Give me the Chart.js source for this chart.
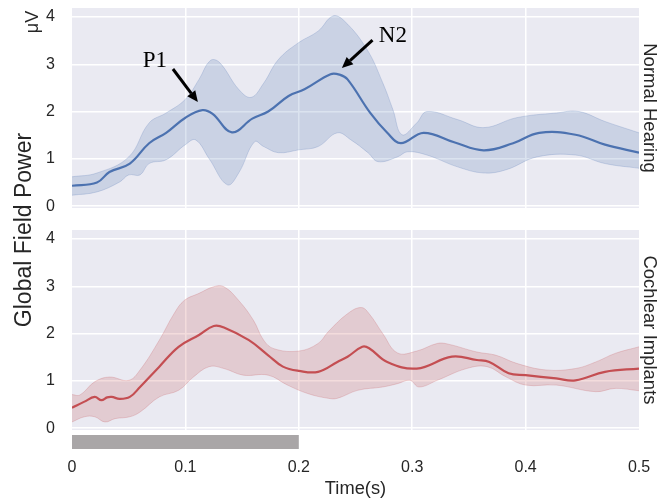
<!DOCTYPE html>
<html>
<head>
<meta charset="utf-8">
<script src="https://cdn.jsdelivr.net/npm/chart.js@4.4.1/dist/chart.umd.min.js"></script>
<style>
  html, body { margin: 0; padding: 0; background: #ffffff; }
  #wrap { position: relative; width: 672px; height: 501px; overflow: hidden; }
  .panel { position: absolute; left: 0; width: 672px; }
  .vlabel { position: absolute; white-space: nowrap; color: #262626; font-family: "Liberation Sans", Arial, sans-serif;
            transform: translate(-50%, -50%) rotate(-90deg); line-height: 1; }
</style>
</head>
<body>
<div id="wrap">
  <div class="panel" style="top:0;height:216px"><canvas id="cTop" width="672" height="216"></canvas></div>
  <div class="panel" style="top:220px;height:281px"><canvas id="cBot" width="672" height="281"></canvas></div>
  <div class="vlabel" id="yTitle" style="left:23px;top:230px;font-size:23px">Global Field Power</div>
  <div class="vlabel" id="yUnit" style="left:32px;top:22px;font-size:18px">μV</div>
</div>
<script>
// ---------- data ----------
const timeTicks = [0, 0.1, 0.2, 0.3, 0.4, 0.5];
const timeTickLabels = ['0', '0.1', '0.2', '0.3', '0.4', '0.5'];
const yTicks = [0, 1, 2, 3, 4];
const panelNames = ['Normal Hearing', 'Cochlear Implants'];
const xTitle = 'Time(s)';
const stimulusWindow = [0, 0.2];

// Normal Hearing
const nhMeanT = [0, 0.022, 0.033, 0.051, 0.068, 0.083, 0.1, 0.115, 0.124, 0.141, 0.159, 0.173, 0.191, 0.205, 0.228, 0.236, 0.243, 0.263, 0.278, 0.29, 0.31, 0.337, 0.363, 0.389, 0.412, 0.444, 0.47, 0.5];
const nhMean  = [0.43, 0.5, 0.72, 0.9, 1.33, 1.55, 1.87, 2.03, 1.95, 1.56, 1.85, 2.0, 2.33, 2.47, 2.79, 2.78, 2.68, 1.97, 1.55, 1.33, 1.55, 1.35, 1.18, 1.33, 1.55, 1.51, 1.3, 1.13];
const nhUpperT = [0, 0.022, 0.05, 0.068, 0.083, 0.1, 0.112, 0.122, 0.13, 0.147, 0.158, 0.169, 0.182, 0.2, 0.217, 0.23, 0.24, 0.26, 0.274, 0.283, 0.291, 0.304, 0.313, 0.34, 0.363, 0.392, 0.427, 0.447, 0.47, 0.5];
const nhUpper  = [0.62, 0.7, 1.04, 1.76, 1.97, 2.26, 2.68, 3.08, 3.04, 2.47, 2.3, 2.6, 3.1, 3.46, 3.7, 4.02, 3.92, 3.32, 2.61, 2.04, 1.51, 1.76, 2.0, 1.83, 1.66, 1.87, 1.97, 2.0, 1.79, 1.55];
const nhLowerT = [0, 0.022, 0.042, 0.05, 0.06, 0.068, 0.083, 0.1, 0.109, 0.121, 0.137, 0.147, 0.161, 0.169, 0.182, 0.2, 0.217, 0.234, 0.246, 0.261, 0.27, 0.287, 0.296, 0.313, 0.34, 0.363, 0.383, 0.41, 0.444, 0.47, 0.5];
const nhLower  = [0.23, 0.3, 0.51, 0.66, 0.66, 0.9, 0.98, 1.3, 1.4, 1.0, 0.45, 0.7, 1.36, 1.26, 1.13, 1.19, 1.26, 1.55, 1.4, 1.13, 0.94, 1.04, 1.15, 1.08, 0.83, 0.7, 0.77, 1.04, 1.08, 0.9, 0.8];

// Cochlear Implants
const ciMeanT = [0, 0.011, 0.02, 0.026, 0.031, 0.035, 0.042, 0.051, 0.06, 0.077, 0.094, 0.112, 0.125, 0.134, 0.156, 0.173, 0.186, 0.2, 0.217, 0.234, 0.243, 0.256, 0.262, 0.278, 0.304, 0.335, 0.357, 0.368, 0.385, 0.4, 0.427, 0.444, 0.47, 0.5];
const ciMean  = [0.43, 0.56, 0.66, 0.59, 0.65, 0.66, 0.62, 0.66, 0.87, 1.3, 1.72, 1.97, 2.16, 2.13, 1.86, 1.54, 1.3, 1.21, 1.19, 1.4, 1.51, 1.72, 1.69, 1.4, 1.26, 1.51, 1.44, 1.4, 1.16, 1.12, 1.05, 1.01, 1.19, 1.26];
const ciUpperT = [0, 0.007, 0.02, 0.033, 0.05, 0.06, 0.077, 0.09, 0.099, 0.112, 0.125, 0.134, 0.147, 0.16, 0.169, 0.178, 0.2, 0.217, 0.226, 0.243, 0.255, 0.262, 0.274, 0.287, 0.304, 0.322, 0.331, 0.357, 0.374, 0.392, 0.418, 0.444, 0.462, 0.479, 0.5];
const ciUpper  = [0.71, 0.7, 0.98, 1.08, 1.01, 1.23, 1.86, 2.42, 2.7, 2.85, 2.99, 2.99, 2.7, 2.28, 1.86, 1.68, 1.63, 1.79, 2.04, 2.42, 2.55, 2.42, 2.0, 1.59, 1.63, 1.79, 1.78, 1.61, 1.54, 1.37, 1.23, 1.26, 1.4, 1.58, 1.72];
const ciLowerT = [0, 0.011, 0.02, 0.029, 0.038, 0.051, 0.06, 0.077, 0.094, 0.107, 0.121, 0.134, 0.151, 0.173, 0.19, 0.208, 0.226, 0.234, 0.252, 0.274, 0.287, 0.298, 0.306, 0.322, 0.348, 0.366, 0.383, 0.4, 0.427, 0.462, 0.479, 0.5];
const ciLower  = [0.13, 0.24, 0.24, 0.13, 0.2, 0.24, 0.34, 0.66, 0.8, 1.08, 1.3, 1.26, 1.12, 1.12, 0.91, 0.73, 0.63, 0.63, 0.8, 0.87, 0.94, 1.01, 0.87, 1.01, 1.26, 1.3, 1.08, 0.91, 0.91, 0.77, 0.84, 0.79];

// Peak annotations (data coordinates)
const peakLabels = ['P1', 'N2'];
const peakTextT = [0.073, 0.283];
const peakTextV = [3.07, 3.6];
const peakTailT = [0.089, 0.265];
const peakTailV = [2.9, 3.51];
const peakTipT  = [0.111, 0.238];
const peakTipV  = [2.2, 2.92];

// ---------- styling ----------
const SANS = '"Liberation Sans", Arial, sans-serif';
const SERIF = '"Liberation Serif", "Times New Roman", serif';
const TXT = '#262626';
const BG = '#EAEAF2';
const Y_MIN = -0.04, Y_MAX = 4.19;

const pts = (t, v) => t.map((x, i) => ({x: x, y: v[i]}));

function datasets(rgb, mT, m, uT, u, lT, l) {
  const solid = `rgb(${rgb})`;
  const band = `rgba(${rgb},0.2)`;
  const edge = `rgba(${rgb},0.22)`;
  return [
    {data: pts(mT, m), borderColor: solid, borderWidth: 2.2, pointRadius: 0, fill: false, tension: 0.4},
    {data: pts(uT, u), borderColor: edge, borderWidth: 1, pointRadius: 0, backgroundColor: band, fill: 2, tension: 0.4},
    {data: pts(lT, l), borderColor: edge, borderWidth: 1, pointRadius: 0, fill: false, tension: 0.4}
  ];
}

const bgPlugin = {
  id: 'bg',
  beforeDraw(chart) {
    const a = chart.chartArea, c = chart.ctx;
    c.save(); c.fillStyle = BG; c.fillRect(a.left, a.top, a.right - a.left, a.bottom - a.top); c.restore();
  }
};

function sideLabel(text) {
  return {
    id: 'side',
    afterDraw(chart) {
      const a = chart.chartArea, c = chart.ctx;
      c.save();
      c.translate(a.right + 10, (a.top + a.bottom) / 2);
      c.rotate(Math.PI / 2);
      c.font = `18.5px ${SANS}`; c.fillStyle = TXT;
      c.textAlign = 'center'; c.textBaseline = 'middle';
      c.fillText(text, 0, 0);
      c.restore();
    }
  };
}

const stimPlugin = {
  id: 'stim',
  afterDraw(chart) {
    const xs = chart.scales.x, a = chart.chartArea, c = chart.ctx;
    const x0 = xs.getPixelForValue(stimulusWindow[0]), x1 = xs.getPixelForValue(stimulusWindow[1]);
    c.save(); c.fillStyle = '#A9A6A7'; c.fillRect(x0, a.bottom + 5, x1 - x0, 14); c.restore();
  }
};

const arrowPlugin = {
  id: 'arrows',
  afterDatasetsDraw(chart) {
    const xs = chart.scales.x, ys = chart.scales.y, c = chart.ctx;
    c.save();
    peakLabels.forEach((lab, i) => {
      c.font = `23px ${SERIF}`; c.fillStyle = '#000'; c.textAlign = 'center'; c.textBaseline = 'middle';
      c.fillText(lab, xs.getPixelForValue(peakTextT[i]), ys.getPixelForValue(peakTextV[i]));
      const x0 = xs.getPixelForValue(peakTailT[i]), y0 = ys.getPixelForValue(peakTailV[i]);
      const x1 = xs.getPixelForValue(peakTipT[i]), y1 = ys.getPixelForValue(peakTipV[i]);
      const ang = Math.atan2(y1 - y0, x1 - x0), hl = 11, hw = 5;
      const bx = x1 - hl * Math.cos(ang), by = y1 - hl * Math.sin(ang);
      c.strokeStyle = '#000'; c.lineWidth = 3;
      c.beginPath(); c.moveTo(x0, y0); c.lineTo(bx, by); c.stroke();
      c.beginPath();
      c.moveTo(x1, y1);
      c.lineTo(bx + hw * Math.sin(ang), by - hw * Math.cos(ang));
      c.lineTo(bx - hw * Math.sin(ang), by + hw * Math.cos(ang));
      c.closePath(); c.fillStyle = '#000'; c.fill();
    });
    c.restore();
  }
};

function yScale() {
  return {
    type: 'linear', min: Y_MIN, max: Y_MAX,
    afterBuildTicks(s) { s.ticks = yTicks.map(v => ({value: v})); },
    afterFit(s) { s.width = 72; s.paddingTop = 0; s.paddingBottom = 0; },
    grid: {color: '#ffffff', lineWidth: 1.5, drawTicks: false},
    border: {display: false},
    ticks: {font: {family: SANS, size: 16}, color: TXT, padding: 17, callback: v => String(v)}
  };
}

function xScale(showLabels) {
  return {
    type: 'linear', min: 0, max: 0.5,
    afterBuildTicks(s) { s.ticks = timeTicks.map(v => ({value: v})); },
    afterFit(s) { s.height = showLabels ? 71 : 0; s.paddingLeft = 0; s.paddingRight = 0; },
    grid: {color: ctx => (ctx.tick && (ctx.tick.value === 0 || ctx.tick.value === 0.5)) ? 'rgba(0,0,0,0)' : '#ffffff', lineWidth: 1.5, drawTicks: false},
    border: {display: false},
    ticks: {display: showLabels, font: {family: SANS, size: 16}, color: TXT, padding: 28, maxRotation: 0,
            callback: (v) => { const k = timeTicks.indexOf(v); return k >= 0 ? timeTickLabels[k] : ''; }},
    title: {display: showLabels, text: xTitle, font: {family: SANS, size: 18.3}, color: TXT, padding: {top: 0, bottom: 1}}
  };
}

function baseOptions(pad, showX) {
  return {
    responsive: false, animation: false, devicePixelRatio: 1,
    layout: {padding: pad},
    plugins: {legend: {display: false}, tooltip: {enabled: false}},
    scales: {x: xScale(showX), y: yScale()}
  };
}

new Chart(document.getElementById('cTop'), {
  type: 'line',
  data: {datasets: datasets('76,114,176', nhMeanT, nhMean, nhUpperT, nhUpper, nhLowerT, nhLower)},
  options: baseOptions({top: 8, right: 33, bottom: 8, left: 0}, false),
  plugins: [bgPlugin, sideLabel(panelNames[0]), arrowPlugin]
});

new Chart(document.getElementById('cBot'), {
  type: 'line',
  data: {datasets: datasets('196,78,82', ciMeanT, ciMean, ciUpperT, ciUpper, ciLowerT, ciLower)},
  options: baseOptions({top: 10, right: 33, bottom: 0, left: 0}, true),
  plugins: [bgPlugin, sideLabel(panelNames[1]), stimPlugin]
});
</script>
</body>
</html>
